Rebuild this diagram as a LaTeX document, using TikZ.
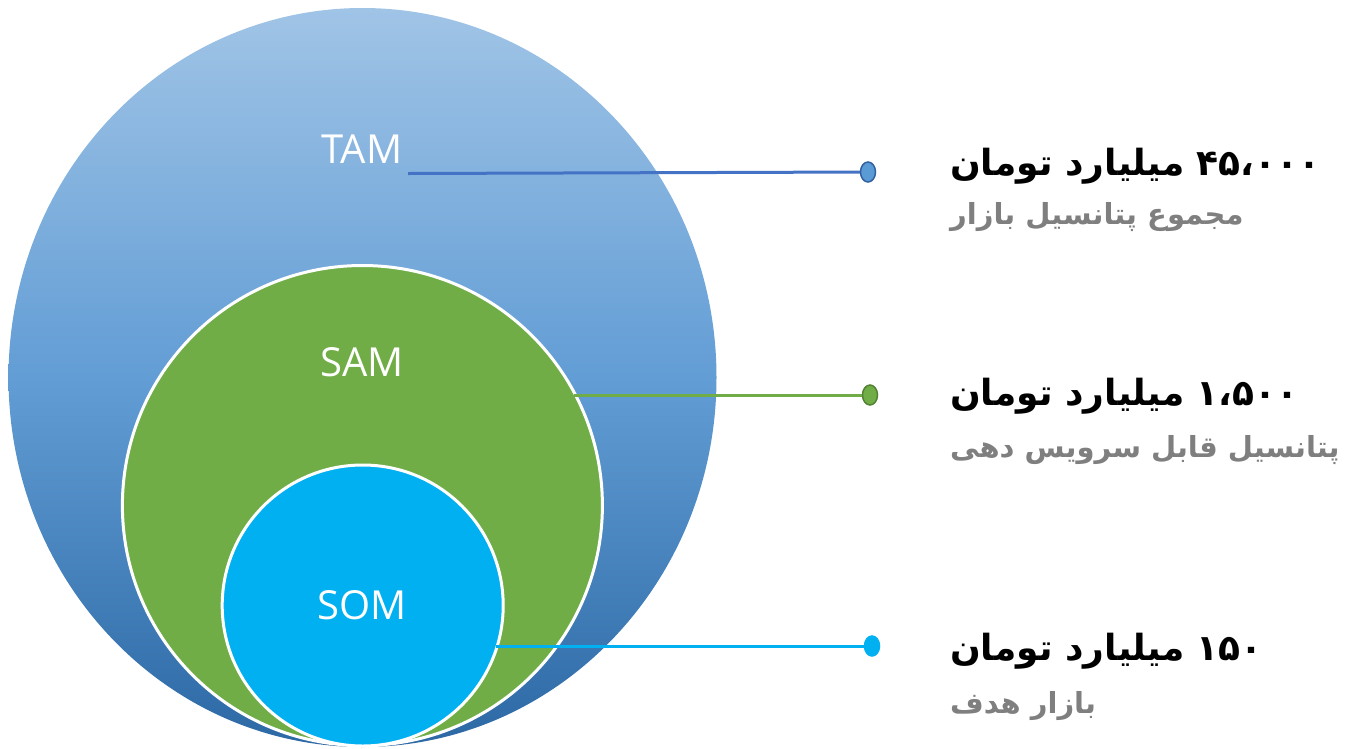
\documentclass[tikz,border=0pt]{standalone}
\usepackage{fontspec}
\usetikzlibrary{shapes.geometric}
\TeXXeTstate=1
\newfontfamily\fafont[Script=Arabic]{DejaVu Sans}
\newfontfamily\labfont{Open Sans}
\definecolor{tamtop}{RGB}{160,196,230}
\definecolor{tammid}{RGB}{98,157,213}
\definecolor{tambot}{RGB}{44,104,164}
\definecolor{samgreen}{RGB}{112,173,71}
\definecolor{somblue}{RGB}{0,176,240}
\definecolor{lineblue}{RGB}{68,114,196}
\definecolor{dotblue}{RGB}{91,155,213}
\definecolor{dotblueedge}{RGB}{50,96,160}
\definecolor{dotgreenedge}{RGB}{84,130,53}
\definecolor{subgray}{RGB}{127,127,127}
\tikzset{
  circlabel/.style={text=white, font=\labfont\fontsize{40}{44}\selectfont, anchor=base, inner sep=0},
  inner circ/.style={circle, draw=white, line width=3pt, inner sep=0},
  conn/.style={line width=3pt},
  dotnode/.style={ellipse, minimum width=15pt, minimum height=20pt, inner sep=0, line width=1.5pt},
  valtext/.style={anchor=base west, inner sep=0, font=\fafont\bfseries\fontsize{36}{40}\selectfont, text=black},
  subtext/.style={anchor=base west, inner sep=0, font=\fafont\bfseries\fontsize{29}{33}\selectfont, text=subgray}
}
\begin{document}
\begin{tikzpicture}[x=1pt,y=-1pt]
\useasboundingbox (0,0) rectangle (1345,748);
% circles
\node[ellipse, minimum width=708pt, minimum height=739pt, inner sep=0,
      top color=tamtop, bottom color=tambot, middle color=tammid] (tam) at (362.5,377.5) {};
\node[inner circ, fill=samgreen, minimum size=480pt] (sam) at (362.4,505.5) {};
\node[inner circ, fill=somblue, minimum size=281pt] (som) at (362.7,605.5) {};
% circle labels
\node[circlabel] (tamlab) at (362,163) {TAM};
\node[circlabel] (samlab) at (362,376) {SAM};
\node[circlabel] (somlab) at (362,619) {SOM};
% connectors
\coordinate (c1) at (408,173.5);
\coordinate (c2) at (574,395);
\coordinate (c3) at (496,646);
\node[dotnode, fill=dotblue, draw=dotblueedge] (d1) at (868,172) {};
\node[dotnode, fill=samgreen, draw=dotgreenedge] (d2) at (870,395) {};
\node[dotnode, fill=somblue, draw=somblue] (d3) at (872,646) {};
\draw[conn, lineblue] (c1) -- (d1);
\draw[conn, samgreen] (c2) -- (d2);
\draw[conn, somblue] (c3) -- (d3);
% texts
\node[valtext] (v1) at (950,175) {\beginR\beginL ۴۵،۰۰۰\endL{} میلیارد تومان\endR};
\node[subtext] (s1) at (950,224) {\beginR مجموع پتانسیل بازار\endR};
\node[valtext] (v2) at (950,405) {\beginR\beginL ۱،۵۰۰\endL{} میلیارد تومان\endR};
\node[subtext] (s2) at (950,457) {\beginR پتانسیل قابل سرویس دهی\endR};
\node[valtext] (v3) at (950,660) {\beginR\beginL ۱۵۰\endL{} میلیارد تومان\endR};
\node[subtext] (s3) at (950,713) {\beginR بازار هدف\endR};
\end{tikzpicture}
\end{document}
